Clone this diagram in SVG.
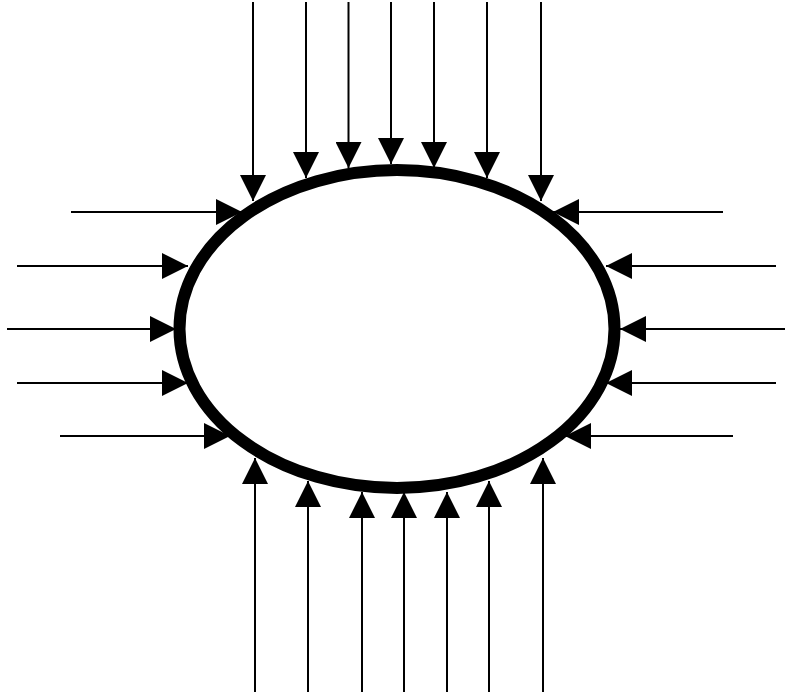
<svg xmlns="http://www.w3.org/2000/svg" width="785" height="696" viewBox="0 0 785 696">
  <style>
    .c line { stroke: #000; stroke-width: 2; marker-end: url(#ah); }
    .ring { fill: #fff; stroke: #000; stroke-width: 12; }
  </style>
  <defs>
    <marker id="ah" markerUnits="userSpaceOnUse" markerWidth="26" markerHeight="26" viewBox="0 0 26 26" refX="26" refY="13" orient="auto">
      <path d="M0,0 L26,13 L0,26 Z" fill="#000"/>
    </marker>
  </defs>
  <rect width="785" height="696" fill="#fff"/>
  <g id="body">
    <ellipse class="ring" cx="397" cy="329" rx="217.5" ry="159"/>
  </g>
  <g id="connectors" class="c">
    <line x1="253" y1="2" x2="253" y2="201"/>
    <line x1="306" y1="2" x2="306" y2="178"/>
    <line x1="348.5" y1="2" x2="348.5" y2="168"/>
    <line x1="391" y1="2" x2="391" y2="164"/>
    <line x1="434" y1="2" x2="434" y2="168"/>
    <line x1="487" y1="2" x2="487" y2="178"/>
    <line x1="541" y1="2" x2="541" y2="201"/>

    <line x1="255" y1="692" x2="255" y2="458"/>
    <line x1="308" y1="692" x2="308" y2="481"/>
    <line x1="362" y1="692" x2="362" y2="492"/>
    <line x1="404" y1="692" x2="404" y2="492"/>
    <line x1="447" y1="692" x2="447" y2="492"/>
    <line x1="489" y1="692" x2="489" y2="481"/>
    <line x1="543" y1="692" x2="543" y2="458"/>

    <line x1="71" y1="212" x2="242" y2="212"/>
    <line x1="17" y1="266" x2="188" y2="266"/>
    <line x1="7" y1="329" x2="176" y2="329"/>
    <line x1="17" y1="383" x2="188" y2="383"/>
    <line x1="60" y1="436" x2="230" y2="436"/>

    <line x1="723" y1="212" x2="553" y2="212"/>
    <line x1="776" y1="266" x2="606" y2="266"/>
    <line x1="785" y1="329" x2="620" y2="329"/>
    <line x1="776" y1="383" x2="606" y2="383"/>
    <line x1="733" y1="436" x2="565" y2="436"/>
  </g>
</svg>
